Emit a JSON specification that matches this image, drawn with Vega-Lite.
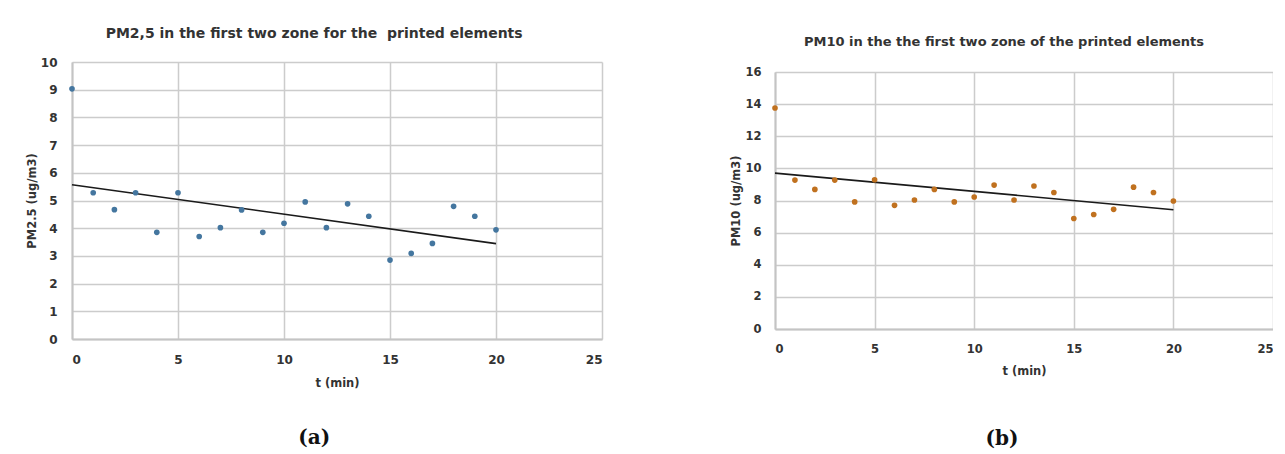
{
  "$schema": "https://vega.github.io/schema/vega-lite/v6.json",
  "background": "white",
  "padding": {"left": 26, "top": 27, "right": 0, "bottom": 0},
  "datasets": {
    "pm25": [
      {"t": 0, "v": 9.03}, {"t": 1, "v": 5.28}, {"t": 2, "v": 4.67}, {"t": 3, "v": 5.28},
      {"t": 4, "v": 3.85}, {"t": 5, "v": 5.28}, {"t": 6, "v": 3.70}, {"t": 7, "v": 4.02},
      {"t": 8, "v": 4.66}, {"t": 9, "v": 3.85}, {"t": 10, "v": 4.18}, {"t": 11, "v": 4.95},
      {"t": 12, "v": 4.02}, {"t": 13, "v": 4.88}, {"t": 14, "v": 4.43}, {"t": 15, "v": 2.85},
      {"t": 16, "v": 3.09}, {"t": 17, "v": 3.45}, {"t": 18, "v": 4.79}, {"t": 19, "v": 4.43},
      {"t": 20, "v": 3.94}
    ],
    "pm10": [
      {"t": 0, "v": 13.76}, {"t": 1, "v": 9.27}, {"t": 2, "v": 8.69}, {"t": 3, "v": 9.27},
      {"t": 4, "v": 7.91}, {"t": 5, "v": 9.29}, {"t": 6, "v": 7.70}, {"t": 7, "v": 8.03},
      {"t": 8, "v": 8.69}, {"t": 9, "v": 7.91}, {"t": 10, "v": 8.22}, {"t": 11, "v": 8.96},
      {"t": 12, "v": 8.03}, {"t": 13, "v": 8.90}, {"t": 14, "v": 8.50}, {"t": 15, "v": 6.88},
      {"t": 16, "v": 7.13}, {"t": 17, "v": 7.45}, {"t": 18, "v": 8.83}, {"t": 19, "v": 8.50},
      {"t": 20, "v": 7.97}
    ]
  },
  "config": {
    "font": "DejaVu Sans",
    "view": {"stroke": null},
    "axis": {
      "grid": true, "gridColor": "#cccccc", "gridWidth": 1.5,
      "domainColor": "#c4c4c4", "domainWidth": 2,
      "ticks": false,
      "labelFont": "DejaVu Sans", "labelFontWeight": "bold", "labelFontSize": 12, "labelColor": "#333333",
      "titleFont": "DejaVu Sans", "titleFontWeight": "bold", "titleFontSize": 11.5, "titleColor": "#333333"
    },
    "title": {"font": "DejaVu Sans", "fontWeight": "bold", "fontSize": 13, "color": "#333333", "anchor": "middle", "frame": "bounds"},
    "concat": {"spacing": 128}
  },
  "hconcat": [
    {
      "title": {"text": "(a)", "orient": "bottom", "font": "DejaVu Serif", "fontSize": 20, "fontWeight": "bold", "color": "#111111", "offset": 39},
      "vconcat": [
        {
          "width": 530, "height": 277,
          "title": {"text": "PM2,5 in the first two zone for the\u00a0 printed elements", "fontSize": 14, "offset": 15},
          "data": {"name": "pm25"},
          "encoding": {
            "x": {"field": "t", "type": "quantitative", "scale": {"domain": [0, 25], "nice": false},
                  "axis": {"values": [0, 5, 10, 15, 20, 25], "title": "t (min)", "labelPadding": 15, "titlePadding": 12}},
            "y": {"field": "v", "type": "quantitative", "scale": {"domain": [0, 10], "nice": false},
                  "axis": {"values": [0, 1, 2, 3, 4, 5, 6, 7, 8, 9, 10], "title": "PM2.5  (ug/m3)", "labelPadding": 15, "titlePadding": 3}}
          },
          "layer": [
            {"transform": [{"regression": "v", "on": "t", "extent": [0, 20]}],
             "mark": {"type": "line", "color": "#1a1a1a", "strokeWidth": 1.6}},
            {"mark": {"type": "circle", "size": 32, "color": "#44769f", "opacity": 1}}
          ]
        }
      ]
    },
    {
      "title": {"text": "(b)", "orient": "bottom", "font": "DejaVu Serif", "fontSize": 20, "fontWeight": "bold", "color": "#111111", "offset": 52},
      "spacing": 0,
      "vconcat": [
        {
          "width": 498, "height": 1,
          "title": {"text": "PM10 in the the first two zone of the printed elements", "offset": 11, "dx": -20},
          "data": {"values": [{"k": 1}]},
          "mark": {"type": "point", "opacity": 0},
          "encoding": {}
        },
        {
          "width": 498, "height": 257,
          "data": {"name": "pm10"},
          "encoding": {
            "x": {"field": "t", "type": "quantitative", "scale": {"domain": [0, 25], "nice": false},
                  "axis": {"values": [0, 5, 10, 15, 20, 25], "title": "t (min)", "labelPadding": 14, "titlePadding": 11, "labelFontSize": 11.5}},
            "y": {"field": "v", "type": "quantitative", "scale": {"domain": [0, 16], "nice": false},
                  "axis": {"values": [0, 2, 4, 6, 8, 10, 12, 14, 16], "title": "PM10  (ug/m3)", "labelPadding": 14, "titlePadding": 3, "labelFontSize": 11.5}}
          },
          "layer": [
            {"transform": [{"regression": "v", "on": "t", "extent": [0, 20]}],
             "mark": {"type": "line", "color": "#1a1a1a", "strokeWidth": 1.6}},
            {"mark": {"type": "circle", "size": 32, "color": "#c0711f", "opacity": 1}}
          ]
        }
      ]
    }
  ]
}
